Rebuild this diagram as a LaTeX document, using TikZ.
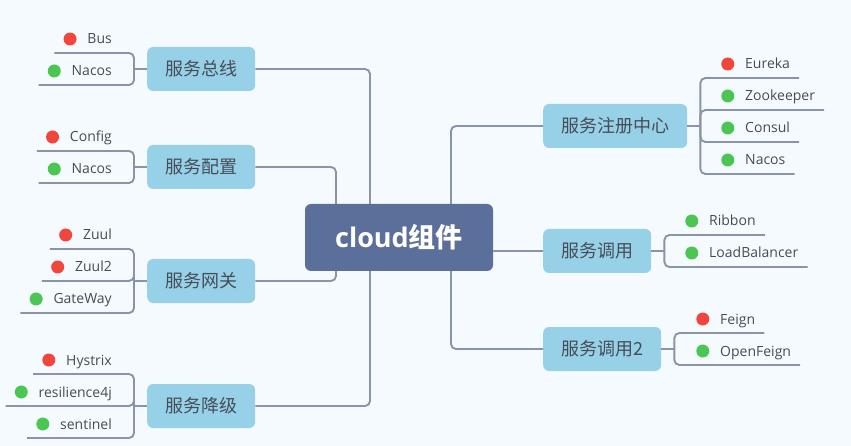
\documentclass[tikz,border=0pt]{standalone}
\usepackage{fontspec}
\setmainfont{Open Sans}
\newfontfamily\cjkfont{Noto Sans CJK SC}
\usetikzlibrary{positioning}

\definecolor{paper}{HTML}{F5FAFE}
\definecolor{wire}{HTML}{8A94A8}
\definecolor{topicfill}{HTML}{97D1E7}
\definecolor{rootfill}{HTML}{5A6F99}
\definecolor{ink}{HTML}{464C58}
\definecolor{redmark}{HTML}{F0463C}
\definecolor{greenmark}{HTML}{4CC653}

\begin{document}
\begin{tikzpicture}[
    x=1pt, y=-1pt,
    root/.style={fill=rootfill, text=white, rounded corners=6pt,
        minimum width=188pt, minimum height=67pt,
        font=\fontsize{27}{27}\selectfont\bfseries},
    topic/.style={fill=topicfill, text=ink, rounded corners=6pt,
        minimum height=44pt, inner xsep=18pt,
        font=\cjkfont\fontsize{18}{18}\selectfont},
    leaf/.style={text=ink, inner sep=0pt, text height=10pt, text depth=0pt,
        font=\fontsize{14}{14}\selectfont},
    bullet/.style={circle, inner sep=0pt, minimum size=13pt},
    link/.style={draw=wire, line width=1.9pt, rounded corners=5pt}
]
\fill[paper] (0,0) rectangle (851,446);

% centre and main topics
\node[root] (cloud) at (399,237.5) {cloud{\cjkfont 组件}};

\node[topic, anchor=west] (bus) at (147,69) {服务总线};
\node[topic, anchor=west] (cfg) at (147,167) {服务配置};
\node[topic, anchor=west] (gw) at (147,281) {服务网关};
\node[topic, anchor=west] (deg) at (147,406) {服务降级};
\node[topic, anchor=west] (reg) at (543,126) {服务注册中心};
\node[topic, anchor=west] (call) at (543,251) {服务调用};
\node[topic, anchor=west] (call2) at (543,349) {服务调用2};

\draw[link] (bus.east) -| ([xshift=-29pt]cloud.north);
\draw[link] (cfg.east) -| ([xshift=-63pt]cloud.north);
\draw[link] (gw.east) -| ([xshift=-63pt]cloud.south);
\draw[link] (deg.east) -| ([xshift=-29pt]cloud.south);
\draw[link] (reg.west) -| ([xshift=52pt]cloud.north);
\draw[link] (call.west) -- (call.west -| cloud.east);
\draw[link] (call2.west) -| ([xshift=52pt]cloud.south);

% brackets
\foreach \b in {bus,cfg,gw,deg}{
  \coordinate[left=13pt of \b] (\b-br);
  \draw[link] (\b.west) -- (\b-br);
}
\foreach \b in {reg,call,call2}{
  \coordinate[right=13pt of \b] (\b-br);
  \draw[link] (\b.east) -- (\b-br);
}

% leaves, left side
\foreach \b/\i/\t/\c/\y in {bus/1/Bus/redmark/53, bus/2/Nacos/greenmark/85,
    cfg/1/Config/redmark/151, cfg/2/Nacos/greenmark/183,
    gw/1/Zuul/redmark/249, gw/2/Zuul2/redmark/281, gw/3/GateWay/greenmark/313,
    deg/1/Hystrix/redmark/374, deg/2/resilience4j/greenmark/406,
    deg/3/sentinel/greenmark/438}{
  \node[leaf, anchor=east] (\b-\i) at (112,\y-14) {\t};
  \node[bullet, fill=\c, left=10.5pt of \b-\i] (\b-\i-dot) {};
  \coordinate[left=9pt of \b-\i-dot, yshift=-14pt] (\b-\i-end);
  \draw[link] (\b-br) |- (\b-\i-end);
}

% leaves, right side
\foreach \b/\i/\t/\c/\x/\y in {reg/1/Eureka/redmark/745/78,
    reg/2/Zookeeper/greenmark/745/110, reg/3/Consul/greenmark/745/142,
    reg/4/Nacos/greenmark/745/174,
    call/1/Ribbon/greenmark/709/235, call/2/LoadBalancer/greenmark/709/267,
    call2/1/Feign/redmark/720/333, call2/2/OpenFeign/greenmark/720/365}{
  \node[leaf, anchor=west] (\b-\i) at (\x,\y-14) {\t};
  \node[bullet, fill=\c, left=10.5pt of \b-\i] (\b-\i-dot) {};
  \coordinate[right=9pt of \b-\i, yshift=-14pt] (\b-\i-end);
  \draw[link] (\b-br) |- (\b-\i-end);
}
\end{tikzpicture}
\end{document}
